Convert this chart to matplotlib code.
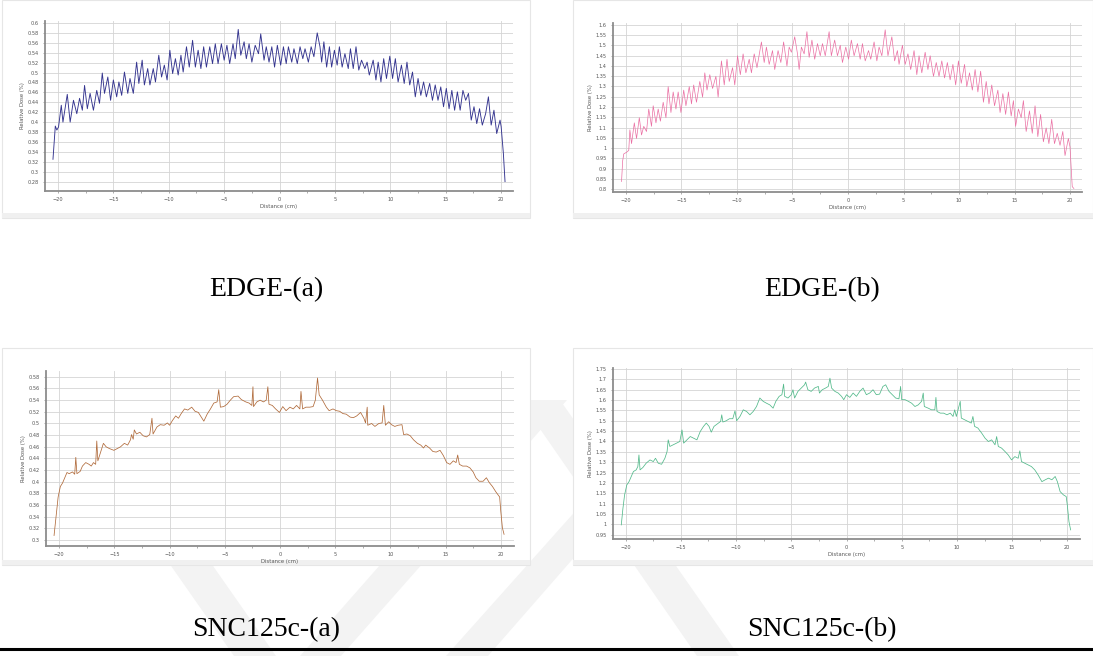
import numpy as np
import matplotlib
matplotlib.use("Agg")
import matplotlib.pyplot as plt
from matplotlib import ticker
from matplotlib.patches import Rectangle, Polygon

# profile curves: (distance cm, relative dose)
edge_a = [(-20.45, 0.325), (-20.24, 0.392), (-20.1, 0.384), (-19.95, 0.39), (-19.7, 0.434), (-19.55, 0.40),
          (-19.16, 0.456), (-18.9, 0.40), (-18.6, 0.444), (-18.3, 0.417), (-18.05, 0.448), (-17.8, 0.424),
          (-17.6, 0.474), (-17.35, 0.427), (-17.1, 0.458), (-16.8, 0.424), (-16.5, 0.464), (-16.25, 0.438),
          (-16.0, 0.499), (-15.8, 0.458), (-15.5, 0.491), (-15.25, 0.444), (-15.0, 0.485), (-14.7, 0.451),
          (-14.5, 0.481), (-14.25, 0.454), (-14.0, 0.501), (-13.7, 0.458), (-13.5, 0.488), (-13.2, 0.458),
          (-12.9, 0.521), (-12.7, 0.478), (-12.4, 0.525), (-12.2, 0.475), (-11.9, 0.508), (-11.7, 0.475),
          (-11.4, 0.508), (-11.2, 0.481), (-10.9, 0.535), (-10.65, 0.491), (-10.4, 0.515), (-10.15, 0.485),
          (-9.9, 0.545), (-9.65, 0.498), (-9.4, 0.528), (-9.15, 0.495), (-8.9, 0.535), (-8.7, 0.501),
          (-8.4, 0.552), (-8.15, 0.511), (-7.85, 0.565), (-7.6, 0.511), (-7.35, 0.545), (-7.1, 0.508),
          (-6.85, 0.552), (-6.6, 0.511), (-6.3, 0.552), (-6.05, 0.518), (-5.8, 0.558), (-5.55, 0.518),
          (-5.25, 0.558), (-5.0, 0.525), (-4.75, 0.555), (-4.5, 0.518), (-4.2, 0.558), (-4.0, 0.528),
          (-3.73, 0.587), (-3.5, 0.535), (-3.2, 0.562), (-3.0, 0.528), (-2.75, 0.558), (-2.5, 0.521),
          (-2.2, 0.555), (-1.9, 0.538), (-1.7, 0.578), (-1.4, 0.525), (-1.2, 0.552), (-0.95, 0.521),
          (-0.7, 0.552), (-0.45, 0.511), (-0.2, 0.555), (0.1, 0.515), (0.35, 0.552), (0.6, 0.518),
          (0.8, 0.552), (1.1, 0.521), (1.3, 0.548), (1.6, 0.518), (1.85, 0.552), (2.1, 0.528),
          (2.3, 0.548), (2.6, 0.521), (2.85, 0.552), (3.1, 0.532), (3.4, 0.58), (3.65, 0.552),
          (3.8, 0.521), (4.0, 0.562), (4.25, 0.511), (4.5, 0.552), (4.7, 0.511), (4.95, 0.545),
          (5.2, 0.515), (5.4, 0.552), (5.65, 0.511), (5.9, 0.538), (6.2, 0.508), (6.4, 0.548),
          (6.65, 0.508), (6.9, 0.552), (7.15, 0.505), (7.4, 0.525), (7.7, 0.508), (7.9, 0.521),
          (8.1, 0.495), (8.45, 0.525), (8.7, 0.485), (8.9, 0.521), (9.15, 0.481), (9.4, 0.528),
          (9.65, 0.488), (9.95, 0.533), (10.2, 0.488), (10.45, 0.528), (10.7, 0.481), (11.0, 0.515),
          (11.25, 0.478), (11.5, 0.521), (11.75, 0.475), (12.0, 0.501), (12.25, 0.451), (12.5, 0.488),
          (12.75, 0.454), (13.0, 0.481), (13.25, 0.451), (13.55, 0.478), (13.8, 0.444), (14.05, 0.475),
          (14.3, 0.444), (14.55, 0.471), (14.8, 0.431), (15.05, 0.468), (15.3, 0.427), (15.55, 0.464),
          (15.8, 0.424), (16.05, 0.461), (16.3, 0.424), (16.55, 0.464), (16.8, 0.444), (17.05, 0.458),
          (17.3, 0.404), (17.55, 0.431), (17.8, 0.397), (18.05, 0.427), (18.3, 0.394), (18.6, 0.417),
          (18.85, 0.451), (19.1, 0.394), (19.35, 0.424), (19.6, 0.377), (19.9, 0.404), (20.0, 0.391),
          (20.2, 0.337), (20.35, 0.28)]

edge_b = [(-20.4, 0.838), (-20.3, 0.938), (-20.2, 0.972), (-19.95, 0.98), (-19.75, 0.989), (-19.65, 1.089),
          (-19.5, 1.022), (-19.25, 1.123), (-19.05, 1.047), (-18.8, 1.148), (-18.6, 1.064), (-18.4, 1.106),
          (-18.15, 1.081), (-17.95, 1.19), (-17.7, 1.106), (-17.55, 1.206), (-17.3, 1.123), (-17.1, 1.19),
          (-16.9, 1.131), (-16.65, 1.223), (-16.4, 1.148), (-16.2, 1.299), (-15.95, 1.173), (-15.75, 1.273),
          (-15.5, 1.19), (-15.3, 1.273), (-15.05, 1.173), (-14.8, 1.282), (-14.6, 1.206), (-14.3, 1.299),
          (-14.1, 1.215), (-13.9, 1.307), (-13.65, 1.223), (-13.35, 1.324), (-13.1, 1.248), (-12.9, 1.366),
          (-12.7, 1.282), (-12.45, 1.357), (-12.2, 1.29), (-11.9, 1.349), (-11.7, 1.248), (-11.4, 1.424),
          (-11.15, 1.307), (-10.9, 1.432), (-10.7, 1.324), (-10.4, 1.391), (-10.2, 1.307), (-9.95, 1.449),
          (-9.7, 1.357), (-9.45, 1.458), (-9.2, 1.366), (-8.9, 1.432), (-8.7, 1.366), (-8.45, 1.458),
          (-8.2, 1.391), (-7.8, 1.516), (-7.55, 1.416), (-7.35, 1.491), (-7.1, 1.407), (-6.8, 1.474),
          (-6.6, 1.382), (-6.3, 1.474), (-6.05, 1.416), (-5.8, 1.516), (-5.5, 1.399), (-5.3, 1.491),
          (-5.1, 1.466), (-4.8, 1.541), (-4.55, 1.458), (-4.4, 1.382), (-4.2, 1.491), (-3.95, 1.458),
          (-3.7, 1.566), (-3.5, 1.441), (-3.25, 1.525), (-3.0, 1.432), (-2.75, 1.508), (-2.5, 1.449),
          (-2.3, 1.508), (-2.05, 1.449), (-1.7, 1.566), (-1.5, 1.449), (-1.2, 1.525), (-0.95, 1.449),
          (-0.7, 1.5), (-0.5, 1.416), (-0.2, 1.491), (0.05, 1.432), (0.3, 1.525), (0.55, 1.449),
          (0.85, 1.508), (1.1, 1.432), (1.3, 1.508), (1.55, 1.424), (1.85, 1.474), (2.05, 1.432),
          (2.35, 1.516), (2.6, 1.424), (2.8, 1.491), (3.05, 1.449), (3.35, 1.575), (3.6, 1.449),
          (3.95, 1.541), (4.2, 1.424), (4.45, 1.474), (4.6, 1.407), (4.9, 1.5), (5.15, 1.407),
          (5.4, 1.458), (5.65, 1.382), (5.95, 1.474), (6.2, 1.357), (6.4, 1.449), (6.65, 1.366),
          (6.95, 1.466), (7.2, 1.382), (7.4, 1.449), (7.7, 1.349), (7.95, 1.416), (8.2, 1.349),
          (8.45, 1.424), (8.7, 1.341), (8.95, 1.416), (9.2, 1.332), (9.45, 1.407), (9.7, 1.307),
          (9.95, 1.424), (10.2, 1.315), (10.5, 1.407), (10.7, 1.299), (10.95, 1.366), (11.2, 1.282),
          (11.45, 1.382), (11.7, 1.273), (11.95, 1.374), (12.2, 1.223), (12.45, 1.324), (12.7, 1.215),
          (12.95, 1.307), (13.2, 1.206), (13.5, 1.282), (13.7, 1.173), (13.95, 1.265), (14.2, 1.164),
          (14.45, 1.273), (14.7, 1.156), (14.9, 1.231), (15.1, 1.106), (15.35, 1.19), (15.6, 1.148),
          (15.8, 1.231), (16.05, 1.081), (16.35, 1.181), (16.6, 1.072), (16.85, 1.206), (17.1, 1.056),
          (17.35, 1.164), (17.6, 1.031), (17.85, 1.098), (18.1, 1.022), (18.35, 1.14), (18.6, 1.022),
          (18.85, 1.072), (19.1, 1.014), (19.35, 1.081), (19.55, 0.964), (19.85, 1.047), (20.0, 1.006),
          (20.1, 0.913), (20.2, 0.813), (20.35, 0.804)]

snc_a = [(-20.47, 0.308), (-20.3, 0.339), (-20.1, 0.374), (-19.9, 0.392), (-19.7, 0.398), (-19.5, 0.407),
         (-19.3, 0.416), (-19.1, 0.414), (-18.8, 0.417), (-18.6, 0.413), (-18.5, 0.442), (-18.4, 0.414),
         (-18.1, 0.418), (-17.9, 0.427), (-17.6, 0.433), (-17.3, 0.43), (-17.1, 0.427), (-16.9, 0.433),
         (-16.7, 0.43), (-16.6, 0.47), (-16.5, 0.436), (-16.25, 0.451), (-16.0, 0.466), (-15.75, 0.46),
         (-15.45, 0.457), (-15.05, 0.454), (-14.75, 0.457), (-14.45, 0.46), (-14.1, 0.466), (-13.8, 0.463),
         (-13.55, 0.472), (-13.45, 0.481), (-13.3, 0.473), (-13.2, 0.489), (-13.0, 0.482), (-12.7, 0.485),
         (-12.4, 0.479), (-12.1, 0.477), (-11.8, 0.481), (-11.6, 0.509), (-11.5, 0.482), (-11.15, 0.494),
         (-10.85, 0.498), (-10.5, 0.497), (-10.2, 0.501), (-10.0, 0.497), (-9.75, 0.505), (-9.45, 0.513),
         (-9.2, 0.509), (-8.95, 0.517), (-8.65, 0.525), (-8.35, 0.523), (-8.0, 0.528), (-7.7, 0.521),
         (-7.4, 0.519), (-7.1, 0.51), (-6.9, 0.504), (-6.6, 0.516), (-6.3, 0.525), (-6.0, 0.535),
         (-5.7, 0.537), (-5.55, 0.558), (-5.4, 0.528), (-5.1, 0.529), (-4.8, 0.533), (-4.5, 0.54),
         (-4.2, 0.546), (-3.8, 0.547), (-3.5, 0.541), (-3.1, 0.537), (-2.8, 0.535), (-2.55, 0.531),
         (-2.45, 0.563), (-2.4, 0.529), (-2.1, 0.537), (-1.8, 0.54), (-1.5, 0.537), (-1.25, 0.54),
         (-1.1, 0.563), (-1.0, 0.533), (-0.7, 0.531), (-0.4, 0.525), (-0.05, 0.519), (0.25, 0.529),
         (0.55, 0.522), (0.9, 0.528), (1.2, 0.525), (1.5, 0.531), (1.8, 0.525), (1.9, 0.555),
         (2.05, 0.525), (2.35, 0.528), (2.7, 0.528), (3.0, 0.529), (3.2, 0.54), (3.4, 0.578),
         (3.55, 0.549), (3.85, 0.54), (4.2, 0.528), (4.45, 0.522), (4.8, 0.525), (5.1, 0.522),
         (5.4, 0.521), (5.7, 0.517), (6.0, 0.516), (6.35, 0.511), (6.65, 0.51), (6.95, 0.513),
         (7.3, 0.519), (7.6, 0.509), (7.75, 0.501), (7.9, 0.528), (7.95, 0.497), (8.3, 0.5),
         (8.6, 0.495), (8.95, 0.5), (9.25, 0.501), (9.4, 0.531), (9.55, 0.497), (9.85, 0.503),
         (10.1, 0.498), (10.4, 0.495), (10.7, 0.497), (11.05, 0.498), (11.2, 0.481), (11.5, 0.482),
         (11.8, 0.479), (12.1, 0.472), (12.45, 0.466), (12.75, 0.463), (13.0, 0.458), (13.2, 0.463),
         (13.55, 0.458), (13.85, 0.452), (14.15, 0.451), (14.5, 0.454), (14.8, 0.445), (15.1, 0.433),
         (15.4, 0.43), (15.7, 0.436), (15.95, 0.433), (16.1, 0.446), (16.25, 0.43), (16.55, 0.427),
         (16.9, 0.427), (17.2, 0.424), (17.5, 0.417), (17.75, 0.407), (18.05, 0.401), (18.4, 0.401),
         (18.7, 0.407), (18.95, 0.399), (19.25, 0.392), (19.55, 0.383), (19.9, 0.374), (20.0, 0.35),
         (20.15, 0.321), (20.3, 0.31)]

snc_b = [(-20.4, 0.997), (-20.25, 1.077), (-20.1, 1.142), (-19.9, 1.19), (-19.7, 1.206), (-19.5, 1.231),
         (-19.3, 1.255), (-19.05, 1.263), (-18.9, 1.279), (-18.8, 1.335), (-18.7, 1.263), (-18.45, 1.274),
         (-18.15, 1.295), (-17.8, 1.311), (-17.5, 1.303), (-17.3, 1.319), (-17.05, 1.295), (-16.75, 1.29),
         (-16.45, 1.319), (-16.25, 1.352), (-16.15, 1.408), (-16.0, 1.376), (-15.7, 1.384), (-15.4, 1.392),
         (-15.1, 1.4), (-14.9, 1.456), (-14.75, 1.392), (-14.45, 1.408), (-14.15, 1.424), (-13.85, 1.416),
         (-13.55, 1.408), (-13.25, 1.448), (-12.95, 1.473), (-12.7, 1.489), (-12.45, 1.473), (-12.25, 1.445),
         (-12.0, 1.473), (-11.8, 1.481), (-11.4, 1.497), (-11.3, 1.529), (-11.2, 1.494), (-10.9, 1.5),
         (-10.6, 1.51), (-10.3, 1.51), (-10.1, 1.548), (-9.95, 1.5), (-9.65, 1.521), (-9.35, 1.553),
         (-9.05, 1.545), (-8.75, 1.529), (-8.45, 1.545), (-8.15, 1.569), (-7.85, 1.61), (-7.55, 1.594),
         (-7.25, 1.585), (-6.95, 1.577), (-6.65, 1.561), (-6.4, 1.594), (-6.1, 1.618), (-5.85, 1.626),
         (-5.7, 1.677), (-5.6, 1.618), (-5.3, 1.61), (-5.0, 1.626), (-4.85, 1.65), (-4.7, 1.61),
         (-4.4, 1.642), (-4.1, 1.658), (-3.8, 1.674), (-3.7, 1.687), (-3.5, 1.65), (-3.2, 1.642),
         (-2.9, 1.658), (-2.55, 1.666), (-2.45, 1.634), (-2.2, 1.65), (-1.9, 1.658), (-1.65, 1.666),
         (-1.5, 1.706), (-1.35, 1.658), (-1.05, 1.642), (-0.75, 1.634), (-0.45, 1.618), (-0.25, 1.602),
         (0.0, 1.626), (0.3, 1.613), (0.6, 1.634), (0.9, 1.618), (1.2, 1.642), (1.5, 1.658),
         (1.8, 1.626), (2.1, 1.634), (2.4, 1.65), (2.7, 1.626), (3.0, 1.629), (3.3, 1.666),
         (3.55, 1.674), (3.85, 1.642), (4.15, 1.626), (4.45, 1.61), (4.75, 1.606), (4.9, 1.666),
         (5.0, 1.602), (5.3, 1.602), (5.6, 1.594), (5.9, 1.585), (6.2, 1.569), (6.5, 1.577),
         (6.8, 1.594), (6.95, 1.634), (7.05, 1.569), (7.4, 1.561), (7.7, 1.553), (8.0, 1.553),
         (8.1, 1.613), (8.2, 1.545), (8.5, 1.537), (8.8, 1.537), (9.1, 1.529), (9.4, 1.537),
         (9.65, 1.521), (9.8, 1.553), (9.95, 1.521), (10.3, 1.594), (10.4, 1.513), (10.7, 1.505),
         (11.0, 1.497), (11.3, 1.489), (11.45, 1.521), (11.6, 1.473), (11.9, 1.465), (12.25, 1.44),
         (12.55, 1.416), (12.85, 1.4), (13.15, 1.408), (13.45, 1.384), (13.6, 1.424), (13.75, 1.376),
         (14.05, 1.368), (14.35, 1.352), (14.65, 1.335), (14.95, 1.311), (15.25, 1.327), (15.55, 1.319),
         (15.7, 1.355), (15.85, 1.303), (16.15, 1.295), (16.45, 1.287), (16.75, 1.279), (17.05, 1.263),
         (17.35, 1.239), (17.7, 1.206), (18.0, 1.215), (18.3, 1.223), (18.6, 1.215), (18.9, 1.231),
         (19.1, 1.206), (19.35, 1.158), (19.65, 1.142), (19.9, 1.134), (20.0, 1.093), (20.15, 1.013),
         (20.3, 0.973)]

x_ticks = [-20, -15, -10, -5, 0, 5, 10, 15, 20]
edge_a_yticks = [0.28, 0.3, 0.32, 0.34, 0.36, 0.38, 0.4, 0.42, 0.44, 0.46, 0.48, 0.5, 0.52, 0.54, 0.56, 0.58, 0.6]
edge_b_yticks = [0.8, 0.85, 0.9, 0.95, 1, 1.05, 1.1, 1.15, 1.2, 1.25, 1.3, 1.35, 1.4, 1.45, 1.5, 1.55, 1.6]
snc_a_yticks = [0.3, 0.32, 0.34, 0.36, 0.38, 0.4, 0.42, 0.44, 0.46, 0.48, 0.5, 0.52, 0.54, 0.56, 0.58]
snc_b_yticks = [0.95, 1, 1.05, 1.1, 1.15, 1.2, 1.25, 1.3, 1.35, 1.4, 1.45, 1.5, 1.55, 1.6, 1.65, 1.7, 1.75]

captions = ["EDGE-(a)", "EDGE-(b)", "SNC125c-(a)", "SNC125c-(b)"]

W, H = 1093, 656
fig = plt.figure(figsize=(W / 100, H / 100), dpi=100)


def fig_box(l, t, r, b):
    # pixel box (top-left origin) -> figure fraction rect
    return [l / W, 1 - b / H, (r - l) / W, (b - t) / H]


# faint watermark bands behind the lower half
wm_bands = [
    [(76, 430), (118, 430), (276, 656), (234, 656)],
    [(525, 400), (567, 400), (341, 656), (300, 656)],
    [(630, 450), (668, 450), (488, 656), (446, 656)],
    [(520, 400), (560, 400), (739, 656), (697, 656)],
]
for band in wm_bands:
    fig.patches.append(Polygon([(x / W, 1 - y / H) for x, y in band], closed=True,
                               transform=fig.transFigure, facecolor="#f3f3f3",
                               edgecolor="none", zorder=0))


def add_panel(l, t, r, b):
    x0, y0, w, h = fig_box(l, t, r, b)
    fig.patches.append(Rectangle((x0, y0), w, h, transform=fig.transFigure,
                                 facecolor="white", edgecolor="#e6e6e6", lw=0.8, zorder=1))
    sx0, sy0, sw, sh = fig_box(l, b - 5, r, b)
    fig.patches.append(Rectangle((sx0, sy0), sw, sh, transform=fig.transFigure,
                                 facecolor="#f0f0f0", edgecolor="none", zorder=1))


def profile_axes(box, data, color, lw, xlim, ylim, yticks):
    ax = fig.add_axes(fig_box(*box))
    ax.set_zorder(3)
    ax.patch.set_alpha(0)
    xs = [p[0] for p in data]
    ys = [p[1] for p in data]
    ax.plot(xs, ys, color=color, lw=lw, zorder=3)
    ax.set_xlim(xlim)
    ax.set_ylim(ylim)
    ax.set_xticks(x_ticks)
    ax.set_yticks(yticks)
    ax.xaxis.set_minor_locator(ticker.MultipleLocator(2.5))
    ax.yaxis.set_major_formatter(ticker.FuncFormatter(lambda v, p: f"{v:g}"))
    ax.grid(True, which="major", color="#d4d4d4", lw=0.6, zorder=1)
    for s in ["top", "right"]:
        ax.spines[s].set_visible(False)
    for s in ["left", "bottom"]:
        ax.spines[s].set_color("#8c8c8c")
        ax.spines[s].set_linewidth(1.3)
    ax.tick_params(which="major", labelsize=3.6, colors="#8c8c8c", labelcolor="#555555",
                   length=1.5, width=0.5, pad=3)
    ax.tick_params(which="minor", length=1.2, width=0.5, colors="#8c8c8c")
    ax.set_xlabel("Distance (cm)", fontsize=3.8, color="#555555", labelpad=1)
    ax.set_ylabel("Relative Dose (%)", fontsize=3.8, color="#555555", labelpad=2)
    return ax


add_panel(2, 0, 530, 218)
add_panel(573, 0, 1093, 218)
add_panel(2, 348, 530, 565)
add_panel(573, 348, 1093, 565)

profile_axes((45, 21, 513, 191), edge_a, "#34348f", 0.65, (-21.17, 21.07), (0.261, 0.604), edge_a_yticks)
profile_axes((613, 23, 1082, 192), edge_b, "#ea6fa3", 0.5, (-21.17, 21.08), (0.787, 1.608), edge_b_yticks)
profile_axes((46, 371, 514, 546), snc_a, "#b06a3a", 0.55, (-21.2, 21.2), (0.29, 0.59), snc_a_yticks)
profile_axes((613, 368, 1080, 539), snc_b, "#52b98a", 0.55, (-21.15, 21.15), (0.929, 1.755), snc_b_yticks)

# captions under each screenshot
cap_pos = [(266, 290), (822, 290), (266, 630), (822, 630)]
for text, (cx, cy) in zip(captions, cap_pos):
    fig.text(cx / W, 1 - cy / H, text, ha="center", va="center",
             fontsize=20, family="Liberation Serif", color="black")

# rule at the bottom of the page
fig.add_artist(plt.Line2D([0, 1], [1 - 649 / H, 1 - 649 / H], transform=fig.transFigure,
                          color="black", lw=2.2))

fig.savefig("out.png", dpi=100, facecolor="white")
